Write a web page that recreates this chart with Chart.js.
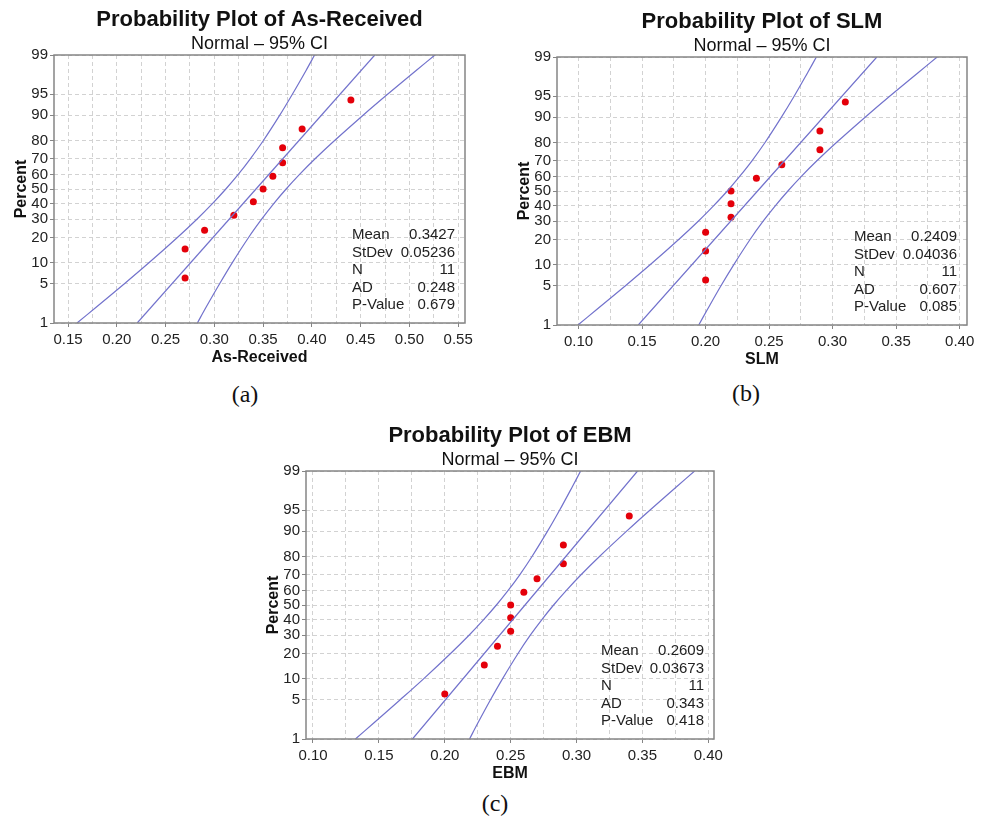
<!DOCTYPE html>
<html>
<head>
<meta charset="utf-8">
<script src="https://cdn.jsdelivr.net/npm/chart.js@4.4.1/dist/chart.umd.min.js"></script>
<style>
  body { margin: 0; background: #fff; width: 984px; height: 820px; position: relative; overflow: hidden; }
  canvas { position: absolute; }
  .tag { position: absolute; font-family: "Liberation Serif", "Times New Roman", serif; font-size: 24px; color: #111; transform: translate(-50%, -50%); }
</style>
</head>
<body>
<canvas id="chartA" width="480" height="367" style="left:0px;top:0px"></canvas>
<canvas id="chartB" width="478" height="367" style="left:503px;top:2px"></canvas>
<canvas id="chartC" width="476" height="367" style="left:252px;top:416px"></canvas>
<div class="tag" style="left:245px;top:394px">(a)</div>
<div class="tag" style="left:746px;top:393px">(b)</div>
<div class="tag" style="left:495px;top:803px">(c)</div>
<script>
// percent scale (normal probability)
const percentTicks = [1, 5, 10, 20, 30, 40, 50, 60, 70, 80, 90, 95, 99];
const plotPercents = [6.1, 14.9, 23.7, 32.5, 41.2, 50, 58.8, 67.5, 76.3, 85.1, 93.9];
const bandPercents = [1, 2, 5, 10, 20, 30, 40, 50, 60, 70, 80, 90, 95, 98, 99];
const fitPercents = [1, 99];
const statLabels = ['Mean', 'StDev', 'N', 'AD', 'P-Value'];

// As-Received
const asReceived = [0.27, 0.27, 0.29, 0.32, 0.34, 0.35, 0.36, 0.37, 0.37, 0.39, 0.44];
const asReceivedFit = [0.2209, 0.4645];
const asReceivedLower = [0.1592, 0.1788, 0.2078, 0.2329, 0.2621, 0.2821, 0.2980, 0.3118, 0.3245, 0.3369, 0.3503, 0.3671, 0.3800, 0.3939, 0.4028];
const asReceivedUpper = [0.2826, 0.2915, 0.3054, 0.3183, 0.3351, 0.3485, 0.3609, 0.3736, 0.3874, 0.4033, 0.4233, 0.4525, 0.4776, 0.5066, 0.5262];
const asReceivedStats = ['0.3427', '0.05236', '11', '0.248', '0.679'];
const asReceivedXTicks = [0.15, 0.20, 0.25, 0.30, 0.35, 0.40, 0.45, 0.50, 0.55];

// SLM
const slm = [0.20, 0.20, 0.20, 0.22, 0.22, 0.22, 0.24, 0.26, 0.29, 0.29, 0.31];
const slmFit = [0.1470, 0.3348];
const slmLower = [0.0995, 0.1145, 0.1369, 0.1563, 0.1788, 0.1942, 0.2064, 0.2171, 0.2268, 0.2365, 0.2468, 0.2597, 0.2697, 0.2803, 0.2872];
const slmUpper = [0.1946, 0.2015, 0.2121, 0.2221, 0.2350, 0.2453, 0.2550, 0.2648, 0.2754, 0.2876, 0.3030, 0.3256, 0.3449, 0.3673, 0.3823];
const slmStats = ['0.2409', '0.04036', '11', '0.607', '0.085'];
const slmXTicks = [0.10, 0.15, 0.20, 0.25, 0.30, 0.35, 0.40];

// EBM
const ebm = [0.20, 0.23, 0.24, 0.25, 0.25, 0.25, 0.26, 0.27, 0.29, 0.29, 0.34];
const ebmFit = [0.1755, 0.3463];
const ebmLower = [0.1322, 0.1459, 0.1662, 0.1839, 0.2044, 0.2184, 0.2295, 0.2392, 0.2481, 0.2569, 0.2662, 0.2780, 0.2871, 0.2968, 0.3031];
const ebmUpper = [0.2188, 0.2250, 0.2347, 0.2438, 0.2556, 0.2649, 0.2737, 0.2826, 0.2923, 0.3034, 0.3174, 0.3380, 0.3556, 0.3759, 0.3896];
const ebmStats = ['0.2609', '0.03673', '11', '0.343', '0.418'];
const ebmXTicks = [0.10, 0.15, 0.20, 0.25, 0.30, 0.35, 0.40];

const FONT = '"Liberation Sans", Arial, sans-serif';
const lineColor = '#7272cc';
const frameColor = '#858585';

// inverse normal cdf, used to place percents on the probability axis
function probit(p) {
    const a = [-3.969683028665376e+01, 2.209460984245205e+02, -2.759285104469687e+02, 1.383577518672690e+02, -3.066479806614716e+01, 2.506628277459239e+00];
    const b = [-5.447609879822406e+01, 1.615858368580409e+02, -1.556989798598866e+02, 6.680131188771972e+01, -1.328068155288572e+01];
    const c = [-7.784894002430293e-03, -3.223964580411365e-01, -2.400758277161838e+00, -2.549732539343734e+00, 4.374664141464968e+00, 2.938163982698783e+00];
    const d = [7.784695709041462e-03, 3.224671290700398e-01, 2.445134137142996e+00, 3.754408661907416e+00];
    const pl = 0.02425;
    let q, r;
    if (p < pl) {
        q = Math.sqrt(-2 * Math.log(p));
        return (((((c[0]*q+c[1])*q+c[2])*q+c[3])*q+c[4])*q+c[5]) / ((((d[0]*q+d[1])*q+d[2])*q+d[3])*q+1);
    }
    if (p > 1 - pl) {
        q = Math.sqrt(-2 * Math.log(1 - p));
        return -(((((c[0]*q+c[1])*q+c[2])*q+c[3])*q+c[4])*q+c[5]) / ((((d[0]*q+d[1])*q+d[2])*q+d[3])*q+1);
    }
    q = p - 0.5;
    r = q * q;
    return (((((a[0]*r+a[1])*r+a[2])*r+a[3])*r+a[4])*r+a[5])*q / (((((b[0]*r+b[1])*r+b[2])*r+b[3])*r+b[4])*r+1);
}

function pairs(xs, percents) {
    return xs.map((x, i) => ({ x: x, y: probit(percents[i] / 100) }));
}

const framePlugin = {
    id: 'frame',
    afterDatasetsDraw(chart) {
        const a = chart.chartArea;
        const ctx = chart.ctx;
        ctx.save();
        ctx.strokeStyle = frameColor;
        ctx.lineWidth = 1.5;
        ctx.strokeRect(a.left, a.top, a.right - a.left, a.bottom - a.top);
        ctx.restore();
    },
    afterDraw(chart) {
        const stats = chart.options.plugins.frame.stats;
        const a = chart.chartArea;
        const ctx = chart.ctx;
        ctx.save();
        ctx.font = '15px ' + FONT;
        ctx.fillStyle = '#222';
        ctx.textBaseline = 'middle';
        statLabels.forEach((label, i) => {
            const y = a.bottom - 88 + i * 17.5;
            ctx.textAlign = 'left';
            ctx.fillText(label, a.right - 113, y);
            ctx.textAlign = 'right';
            ctx.fillText(stats[i], a.right - 10, y);
        });
        ctx.restore();
    }
};

function makePanel(id, cfg) {
    const step = cfg.xTicks[1] - cfg.xTicks[0];
    let gridVals = [];
    cfg.xTicks.forEach((v, i) => {
        gridVals.push(v);
        if (i < cfg.xTicks.length - 1) gridVals.push(v + step / 2);
    });
    const isMajor = v => cfg.xTicks.some(t => Math.abs(t - v) < 1e-9);
    const band = { showLine: true, borderColor: lineColor, borderWidth: 1.2, pointRadius: 0, tension: 0.35 };

    new Chart(document.getElementById(id), {
        type: 'scatter',
        data: {
            datasets: [
                Object.assign({ data: pairs(cfg.lower, bandPercents) }, band),
                Object.assign({ data: pairs(cfg.fit, fitPercents) }, band),
                Object.assign({ data: pairs(cfg.upper, bandPercents) }, band),
                { data: pairs(cfg.values, plotPercents), backgroundColor: '#e4000a', borderWidth: 0, pointRadius: 3.5 }
            ]
        },
        options: {
            responsive: false,
            animation: false,
            layout: { padding: { left: 0, right: cfg.padRight, top: 0, bottom: 0 } },
            plugins: {
                legend: { display: false },
                tooltip: { enabled: false },
                title: {
                    display: true, text: cfg.title, fullSize: false, color: '#111',
                    font: { family: FONT, size: 22, weight: 'bold' },
                    padding: { top: 7, bottom: 0 }
                },
                subtitle: {
                    display: true, text: 'Normal \u2013 95% CI', fullSize: false, color: '#111',
                    font: { family: FONT, size: 18 },
                    padding: { top: 0, bottom: 0 }
                },
                frame: { stats: cfg.stats }
            },
            scales: {
                x: {
                    type: 'linear', min: cfg.xMin, max: cfg.xMax,
                    afterBuildTicks: s => { s.ticks = gridVals.map(v => ({ value: v })); },
                    afterFit: s => { s.height = 44; },
                    ticks: {
                        color: '#222', padding: 4, autoSkip: false, maxRotation: 0,
                        font: { family: FONT, size: 15 },
                        callback: v => isMajor(v) ? v.toFixed(2) : ''
                    },
                    grid: {
                        color: '#d2d2d2', lineWidth: 1, tickLength: 4,
                        tickColor: c => (c.tick && isMajor(c.tick.value)) ? frameColor : 'rgba(0,0,0,0)'
                    },
                    border: { display: false, dash: [4, 3] },
                    title: {
                        display: true, text: cfg.xLabel, color: '#111',
                        font: { family: FONT, size: 16, weight: 'bold' },
                        padding: { top: 0, bottom: 0 }
                    }
                },
                y: {
                    type: 'linear', min: probit(0.01), max: probit(0.99),
                    afterBuildTicks: s => { s.ticks = percentTicks.map(p => ({ value: probit(p / 100) })); },
                    afterFit: s => { s.width = 54; },
                    ticks: {
                        color: '#222', padding: 2, autoSkip: false,
                        font: { family: FONT, size: 15 },
                        callback: (v, i) => String(percentTicks[i])
                    },
                    grid: { color: '#d2d2d2', lineWidth: 1, tickLength: 4, tickColor: frameColor },
                    border: { display: false, dash: [4, 3] },
                    title: {
                        display: true, text: 'Percent', color: '#111',
                        font: { family: FONT, size: 16, weight: 'bold' },
                        padding: { top: 12, bottom: 0 }
                    }
                }
            }
        },
        plugins: [framePlugin]
    });
}

makePanel('chartA', {
    title: 'Probability Plot of As-Received', xLabel: 'As-Received',
    values: asReceived, fit: asReceivedFit, lower: asReceivedLower, upper: asReceivedUpper,
    stats: asReceivedStats, xTicks: asReceivedXTicks, xMin: 0.1356, xMax: 0.557, padRight: 15
});
makePanel('chartB', {
    title: 'Probability Plot of SLM', xLabel: 'SLM',
    values: slm, fit: slmFit, lower: slmLower, upper: slmUpper,
    stats: slmStats, xTicks: slmXTicks, xMin: 0.083, xMax: 0.4058, padRight: 14
});
makePanel('chartC', {
    title: 'Probability Plot of EBM', xLabel: 'EBM',
    values: ebm, fit: ebmFit, lower: ebmLower, upper: ebmUpper,
    stats: ebmStats, xTicks: ebmXTicks, xMin: 0.0947, xMax: 0.4043, padRight: 14
});
</script>
</body>
</html>
